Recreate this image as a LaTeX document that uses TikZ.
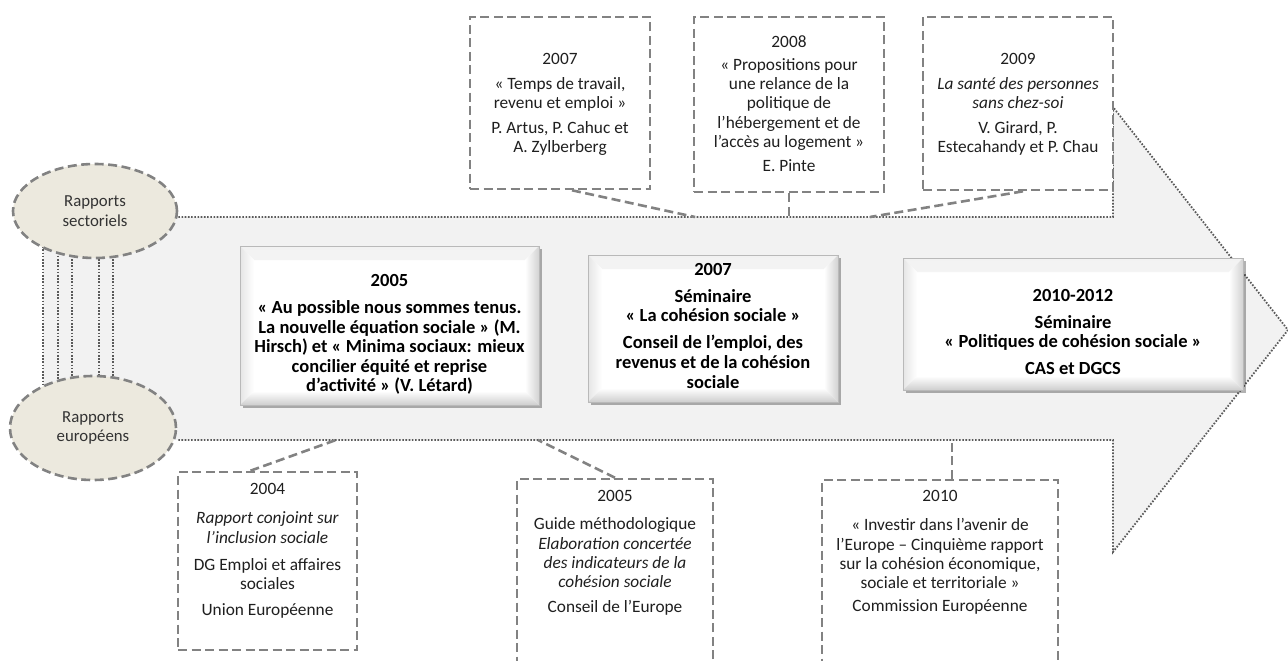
\documentclass[tikz,border=0pt]{standalone}
\usepackage{fontspec}
\setmainfont{Carlito}
\usetikzlibrary{shapes.geometric,shadows,backgrounds,positioning}

\definecolor{arrowgray}{RGB}{242,242,242}
\definecolor{dotgray}{RGB}{90,90,90}
\definecolor{dashgray}{RGB}{130,130,130}
\definecolor{ovalfill}{RGB}{236,233,222}
\newcommand{\bevelw}{14pt}

\tikzset{
  dotline/.style={draw=dotgray, line width=1.8pt, dash pattern=on 1.6pt off 1.6pt},
  dashline/.style={draw=dashgray, line width=2.6pt, dash pattern=on 9pt off 4.5pt},
  dashbox/.style={dashline, fill=white, inner sep=0pt},
  infotext/.style={anchor=north, align=center, inner sep=0pt, text=black!88,
    font=\fontsize{17.3}{19.2}\selectfont},
  oval/.style={ellipse, dashline, fill=ovalfill, align=center, inner sep=0pt, text=black!80,
    font=\fontsize{16.8}{19.5}\selectfont},
  seminartext/.style={align=center, inner sep=0pt, text=black,
    font=\bfseries\fontsize{18.5}{19.6}\selectfont},
  bevelbox/.style={draw=gray!55, line width=0.6pt, fill=white, inner sep=0pt,
    drop shadow={shadow xshift=2.5pt, shadow yshift=-3pt, fill=black, opacity=0.3},
    path picture={
      \shade[top color=gray!10, bottom color=white]
        (path picture bounding box.north west) -- (path picture bounding box.north east)
        -- ([shift={(-\bevelw,-\bevelw)}]path picture bounding box.north east)
        -- ([shift={(\bevelw,-\bevelw)}]path picture bounding box.north west) -- cycle;
      \shade[left color=gray!20, right color=white]
        (path picture bounding box.north west) -- (path picture bounding box.south west)
        -- ([shift={(\bevelw,\bevelw)}]path picture bounding box.south west)
        -- ([shift={(\bevelw,-\bevelw)}]path picture bounding box.north west) -- cycle;
      \shade[left color=white, right color=gray!35]
        (path picture bounding box.north east) -- (path picture bounding box.south east)
        -- ([shift={(-\bevelw,\bevelw)}]path picture bounding box.south east)
        -- ([shift={(-\bevelw,-\bevelw)}]path picture bounding box.north east) -- cycle;
      \shade[top color=white, bottom color=gray!38]
        (path picture bounding box.south west) -- (path picture bounding box.south east)
        -- ([shift={(-\bevelw,\bevelw)}]path picture bounding box.south east)
        -- ([shift={(\bevelw,\bevelw)}]path picture bounding box.south west) -- cycle;
    }}
}

\begin{document}
\begin{tikzpicture}[x=1pt,y=-1pt]
            \useasboundingbox (0,0) rectangle (1288,661);

            \node[oval, minimum width=164pt, minimum height=94pt] (sect) at (95,211) {Rapports\\sectoriels};
            \node[oval, minimum width=166pt, minimum height=104pt] (euro) at (93,428) {Rapports\\européens};

            \coordinate (bodyTL) at (43,217);
            \coordinate (headT) at (1113,217);
            \coordinate (headTop) at (1113,107);
            \coordinate (tip) at (1288,330);
            \coordinate (headBot) at (1113,552);
            \coordinate (headB) at (1113,440);
            \coordinate (bodyBL) at (43,440);

            \begin{pgfonlayer}{background}
                \fill[arrowgray] (bodyTL) -- (headT) -- (headTop) -- (tip) -- (headBot) -- (headB) -- (bodyBL) -- cycle;
                \draw[dotline] (sect.east |- bodyTL) -- (headT) -- (headTop) -- (tip) -- (headBot) -- (headB) -- (euro.east |- bodyBL);
                \foreach \dx in {-52,-37,-23,4,18}
                    \draw[dotline] ([xshift=\dx pt]sect.center) -- ([xshift=\dx pt]sect.center |- euro.center);
            \end{pgfonlayer}

            \node[dashbox, minimum width=180pt, minimum height=172pt] (r2007) at (560,103) {};
            \node[dashbox, minimum width=190pt, minimum height=175pt] (r2008) at (789,104.5) {};
            \node[dashbox, minimum width=190pt, minimum height=173pt] (r2009) at (1018,103.5) {};
            \node[dashbox, minimum width=179pt, minimum height=178pt] (r2004) at (267.5,561) {};
            \node[dashbox, minimum width=196pt, minimum height=200pt] (r2005) at (615,579) {};
            \node[dashbox, minimum width=236pt, minimum height=200pt] (r2010) at (940,580) {};

            \node[infotext, yshift=-37pt] (t2007) at (r2007.north)
                {2007\\[6pt]« Temps de travail,\\revenu et emploi »\\[6pt]P. Artus, P. Cahuc et\\A. Zylberberg};
            \node[infotext, yshift=-19.5pt] (t2008) at (r2008.north)
                {2008\\[4pt]« Propositions pour\\une relance de la\\politique de\\l’hébergement et de\\l’accès au logement »\\[5pt]E. Pinte};
            \node[infotext, yshift=-37pt] (t2009) at (r2009.north)
                {2009\\[6pt]\textit{La santé des personnes}\\\textit{sans chez-soi}\\[6pt]V. Girard, P.\\Estecahandy et P. Chau};
            \node[infotext, yshift=-12.5pt] (t2004) at (r2004.north)
                {2004\\[10pt]\textit{Rapport conjoint sur}\\\textit{l’inclusion sociale}\\[8pt]DG Emploi et affaires\\sociales\\[7pt]Union Européenne};
            \node[infotext, yshift=-12.5pt] (t2005) at (r2005.north)
                {2005\\[9pt]Guide méthodologique\\\textit{Elaboration concertée}\\\textit{des indicateurs de la}\\\textit{cohésion sociale}\\[6pt]Conseil de l’Europe};
            \node[infotext, yshift=-11.5pt] (t2010) at (r2010.north)
                {2010\\[10pt]« Investir dans l’avenir de\\l’Europe – Cinquième rapport\\sur la cohésion économique,\\sociale et territoriale »\\[4pt]Commission Européenne};

            \node[bevelbox, minimum width=299pt, minimum height=159pt] (c2005) at (389.5,325.5) {};
            \node[bevelbox, minimum width=250pt, minimum height=147pt] (c2007) at (713,328.5) {};
            \node[bevelbox, minimum width=340pt, minimum height=132pt] (c2010) at (1073,324) {};
            \node[seminartext, yshift=-9pt] (s2005) at (c2005)
                {2005\\[7.5pt]« Au possible nous sommes tenus.\\La nouvelle équation sociale » (M.\\Hirsch) et « Minima sociaux: mieux\\concilier équité et reprise\\d’activité » (V. Létard)};
            \node[seminartext, yshift=3pt] (s2007) at (c2007)
                {2007\\[7.5pt]Séminaire\\« La cohésion sociale »\\[7.5pt]Conseil de l’emploi, des\\revenus et de la cohésion\\sociale};
            \node[seminartext, yshift=-8pt] (s2010) at (c2010)
                {2010-2012\\[7pt]Séminaire\\« Politiques de cohésion sociale »\\[7pt]CAS et DGCS};

            \coordinate (e2007) at (695,217);
            \coordinate (e2009) at (870,217);
            \coordinate (e2004) at (336,440);
            \coordinate (e2005) at (538,440);
            \draw[dashline] ([xshift=12pt]r2007.south) -- (e2007);
            \draw[dashline] (r2008.south) -- (r2008.south |- headT);
            \draw[dashline] ([xshift=5pt]r2009.south) -- (e2009);
            \draw[dashline] ([xshift=-17pt]r2004.north) -- (e2004);
            \draw[dashline] (r2005.north) -- (e2005);
            \draw[dashline] ([xshift=12pt]r2010.north) -- ([xshift=12pt]r2010.north |- headB);
\end{tikzpicture}
\end{document}
